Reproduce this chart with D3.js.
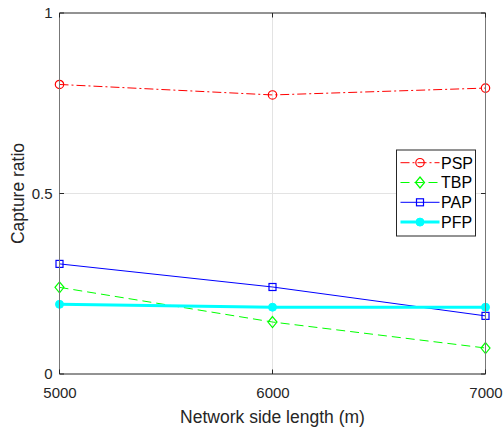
<!DOCTYPE html>
<html>
<head>
<meta charset="utf-8">
<script src="https://cdn.jsdelivr.net/npm/d3@7"></script>
<style>
  body { margin: 0; background: #fff; }
  svg { font-family: "Liberation Sans", Arial, sans-serif; }
</style>
</head>
<body>
<svg width="503" height="430"></svg>
<script>
const lengths = [5000, 6000, 7000];
const psp = [0.802, 0.773, 0.792];
const tbp = [0.240, 0.144, 0.072];
const pap = [0.305, 0.241, 0.161];
const pfp = [0.193, 0.185, 0.185];
const yTicks = [0, 0.5, 1];
const seriesNames = ["PSP", "TBP", "PAP", "PFP"];

const margin = {left: 59.5, top: 13, right: 17.5, bottom: 56};
const width = 503 - margin.left - margin.right;
const height = 430 - margin.top - margin.bottom;

const svg = d3.select("svg");
const g = svg.append("g").attr("transform", `translate(${margin.left},${margin.top})`);

const x = d3.scaleLinear().domain([5000, 7000]).range([0, width]);
const y = d3.scaleLinear().domain([0, 1]).range([height, 0]);

// grid
g.append("line").attr("x1", x(6000)).attr("x2", x(6000)).attr("y1", 0).attr("y2", height)
  .attr("stroke", "#e3e3e3").attr("stroke-width", 1);
g.append("line").attr("x1", 0).attr("x2", width).attr("y1", y(0.5)).attr("y2", y(0.5))
  .attr("stroke", "#e3e3e3").attr("stroke-width", 1);

const series = [
  {name: "PSP", vals: psp, color: "#ff0000", dash: "9,3,2,3", width: 1, marker: "circle"},
  {name: "TBP", vals: tbp, color: "#00ff00", dash: "9,5", width: 1, marker: "diamond"},
  {name: "PAP", vals: pap, color: "#0000ff", dash: null, width: 1, marker: "square"},
  {name: "PFP", vals: pfp, color: "#00ffff", dash: null, width: 3, marker: "dot"}
];

const line = d3.line().x((d, i) => x(lengths[i])).y(d => y(d));

function drawMarker(sel, s, cx, cy) {
  if (s.marker === "circle") {
    sel.append("circle").attr("cx", cx).attr("cy", cy).attr("r", 4.2)
      .attr("fill", "none").attr("stroke", s.color).attr("stroke-width", 1.2);
  } else if (s.marker === "diamond") {
    sel.append("path").attr("d", `M${cx},${cy-5.5}L${cx+4.5},${cy}L${cx},${cy+5.5}L${cx-4.5},${cy}Z`)
      .attr("fill", "none").attr("stroke", s.color).attr("stroke-width", 1.2);
  } else if (s.marker === "square") {
    sel.append("rect").attr("x", cx - 3.5).attr("y", cy - 3.5).attr("width", 7).attr("height", 7)
      .attr("fill", "none").attr("stroke", s.color).attr("stroke-width", 1.2);
  } else {
    sel.append("circle").attr("cx", cx).attr("cy", cy).attr("r", 4)
      .attr("fill", s.color).attr("stroke", s.color);
  }
}

series.forEach(s => {
  g.append("path").datum(s.vals).attr("d", line)
    .attr("fill", "none").attr("stroke", s.color).attr("stroke-width", s.width)
    .attr("stroke-dasharray", s.dash);
  s.vals.forEach((v, i) => drawMarker(g, s, x(lengths[i]), y(v)));
});

// axes box
g.append("line").attr("x1", 0).attr("x2", width).attr("y1", 0).attr("y2", 0).attr("stroke", "#262626");
g.append("line").attr("x1", 0).attr("x2", width).attr("y1", height).attr("y2", height).attr("stroke", "#262626");
g.append("line").attr("x1", 0).attr("x2", 0).attr("y1", 0).attr("y2", height).attr("stroke", "#777");
g.append("line").attr("x1", width).attr("x2", width).attr("y1", 0).attr("y2", height).attr("stroke", "#777");

const xAxis = d3.axisBottom(x).tickValues(lengths).tickSize(0).tickPadding(13).tickFormat(d3.format("d"));
g.append("g").attr("transform", `translate(0,${height})`).call(xAxis)
  .call(a => a.select(".domain").remove())
  .selectAll("text").attr("font-size", 15).attr("fill", "#262626").attr("font-family", "Liberation Sans, Arial, sans-serif");

const yAxis = d3.axisLeft(y).tickValues(yTicks).tickSize(0).tickPadding(7).tickFormat(d => d === 0.5 ? "0.5" : d3.format("d")(d));
g.append("g").call(yAxis)
  .call(a => a.select(".domain").remove())
  .selectAll("text").attr("font-size", 15).attr("fill", "#262626").attr("font-family", "Liberation Sans, Arial, sans-serif");

// inner ticks
yTicks.forEach(t => {
  g.append("line").attr("x1", 0).attr("x2", 4.5).attr("y1", y(t)).attr("y2", y(t)).attr("stroke", "#262626");
  g.append("line").attr("x1", width - 4.5).attr("x2", width).attr("y1", y(t)).attr("y2", y(t)).attr("stroke", "#262626");
});
lengths.forEach(t => {
  g.append("line").attr("x1", x(t)).attr("x2", x(t)).attr("y1", height - 4.5).attr("y2", height).attr("stroke", "#262626");
  g.append("line").attr("x1", x(t)).attr("x2", x(t)).attr("y1", 0).attr("y2", 4.5).attr("stroke", "#262626");
});

// axis labels
svg.append("text").attr("x", margin.left + width / 2).attr("y", 423)
  .attr("text-anchor", "middle").attr("font-size", 17.5).attr("fill", "#262626")
  .text("Network side length (m)");
svg.append("text").attr("transform", `translate(24,${margin.top + height / 2}) rotate(-90)`)
  .attr("text-anchor", "middle").attr("font-size", 17.5).attr("fill", "#262626")
  .text("Capture ratio");

// legend
const leg = svg.append("g").attr("transform", "translate(396.5,150)");
leg.append("rect").attr("width", 79).attr("height", 86)
  .attr("fill", "#fff").attr("stroke", "#262626").attr("stroke-width", 1);
series.forEach((s, i) => {
  const ly = 12.7 + i * 19.8;
  leg.append("line").attr("x1", 4).attr("x2", 43).attr("y1", ly).attr("y2", ly)
    .attr("stroke", s.color).attr("stroke-width", s.width).attr("stroke-dasharray", s.dash);
  drawMarker(leg, s, 23.5, ly);
  leg.append("text").attr("x", 44.5).attr("y", ly + 5.8).attr("font-size", 16).attr("fill", "#000")
    .text(seriesNames[i]);
});
</script>
</body>
</html>
